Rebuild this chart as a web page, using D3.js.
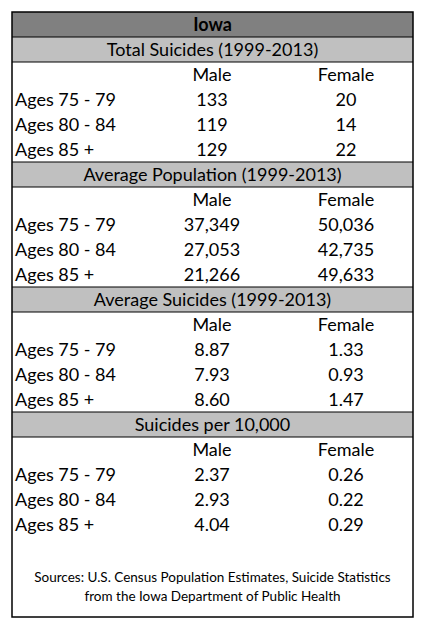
<!DOCTYPE html>
<html><head><meta charset="utf-8">
<script src="https://cdn.jsdelivr.net/npm/d3@7"></script>
<style>body{margin:0;background:#fff}</style></head>
<body><svg id="c" width="425" height="630"></svg>
<script>
const title = "Iowa";
const sections = ["Total Suicides (1999-2013)","Average Population (1999-2013)","Average Suicides (1999-2013)","Suicides per 10,000"];
const columns = ["Male","Female"];
const ages = ["Ages 75 - 79","Ages 80 - 84","Ages 85 +"];
const maleValues = [["133","119","129"],["37,349","27,053","21,266"],["8.87","7.93","8.60"],["2.37","2.93","4.04"]];
const femaleValues = [["20","14","22"],["50,036","42,735","49,633"],["1.33","0.93","1.47"],["0.26","0.22","0.29"]];
const sources = ["Sources: U.S. Census Population Estimates, Suicide Statistics","from the Iowa Department of Public Health"];

const svg = d3.select("#c");
const L=12,R=413,T=12,B=617,rh=25;
const font="Lato, Open Sans, sans-serif";
const fs=18;
const x = d3.scaleOrdinal().domain(columns).range([212,346]);
svg.append("rect").attr("x",L).attr("y",T).attr("width",R-L).attr("height",rh).attr("fill","#808080");
svg.append("text").attr("x",(L+R)/2).attr("y",T+rh/2+6).attr("text-anchor","middle").attr("font-family",font).attr("font-weight","bold").attr("font-size",fs).text(title);
sections.forEach((s,i)=>{
  const y0 = T+rh + i*125;
  svg.append("rect").attr("x",L).attr("y",y0).attr("width",R-L).attr("height",rh).attr("fill","#c0c0c0");
  svg.append("line").attr("x1",L).attr("x2",R).attr("y1",y0).attr("y2",y0).attr("stroke","#000").attr("stroke-width",1.2);
  svg.append("line").attr("x1",L).attr("x2",R).attr("y1",y0+rh).attr("y2",y0+rh).attr("stroke","#000").attr("stroke-width",1);
  svg.append("text").attr("x",(L+R)/2).attr("y",y0+rh/2+6.5).attr("text-anchor","middle").attr("font-family",font).attr("font-size",fs).text(s);
  const t = (xx,yy,txt,anchor)=>svg.append("text").attr("x",xx).attr("y",yy).attr("text-anchor",anchor).attr("font-family",font).attr("font-size",fs).text(txt);
  columns.forEach(c=>t(x(c),y0+rh+19,c,"middle"));
  ages.forEach((a,j)=>{
    const yy=y0+rh+19+(j+1)*rh;
    t(15,yy,a,"start");
    t(x("Male"),yy,maleValues[i][j],"middle");
    t(x("Female"),yy,femaleValues[i][j],"middle");
  });
});
sources.forEach((s,i)=>svg.append("text").attr("x",(L+R)/2).attr("y",582+i*19).attr("text-anchor","middle").attr("font-family",font).attr("font-size",13.5).text(s));
svg.append("rect").attr("x",L).attr("y",T).attr("width",R-L).attr("height",B-T).attr("fill","none").attr("stroke","#000").attr("stroke-width",1.5);
</script></body></html>
